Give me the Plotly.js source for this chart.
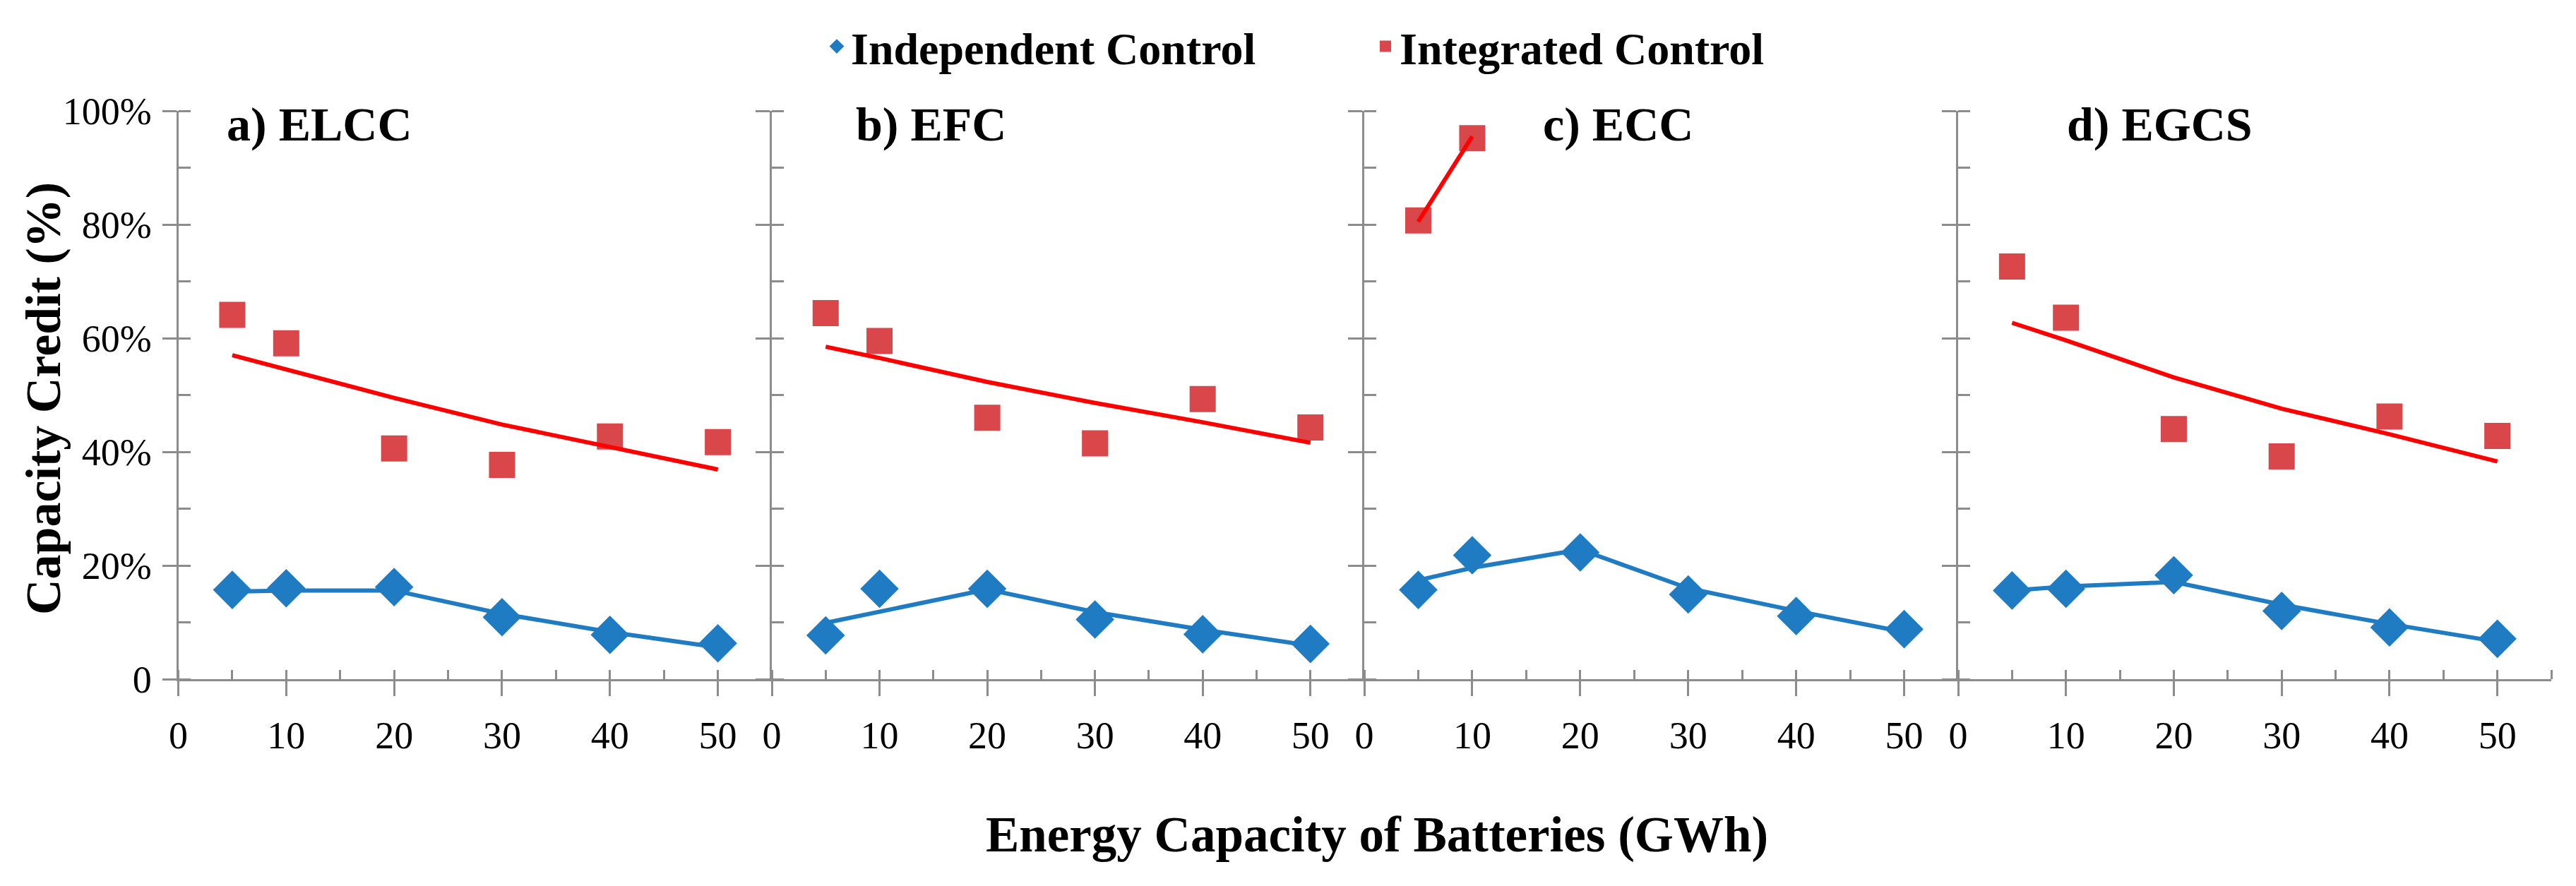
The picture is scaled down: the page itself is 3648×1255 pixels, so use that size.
<!DOCTYPE html>
<html>
<head>
<meta charset="utf-8">
<script src="https://cdn.plot.ly/plotly-3.0.1.min.js"></script>
<style>
  html, body { margin: 0; padding: 0; background: #ffffff; }
  #chart { width: 3648px; height: 1255px; }
</style>
</head>
<body>
<div id="chart"></div>
<script>
// ---------------- DATA ----------------
const panelTitles = ["a) ELCC", "b) EFC", "c) ECC", "d) EGCS"];
const seriesNames = ["Independent Control", "Integrated Control"];
const xTickVals = [0, 10, 20, 30, 40, 50];
const xTickText = ["0", "10", "20", "30", "40", "50"];
const yTickVals = [0, 20, 40, 60, 80, 100];
const yTickText = ["0", "20%", "40%", "60%", "80%", "100%"];
const xTitle = "Energy Capacity of Batteries (GWh)";
const yTitle = "Capacity Credit (%)";

const batteryGWh = [5, 10, 20, 30, 40, 50];
const batteryGWhEcc = [5, 10];

// a) ELCC
const elccIndependent      = [15.7, 16.0, 16.2, 10.9, 7.8, 6.3];
const elccIndependentLine  = [15.4, 15.6, 15.6, 11.5, 8.3, 5.6];
const elccIntegrated       = [64.1, 59.1, 40.6, 37.7, 42.7, 41.7];
const elccIntegratedTrend  = [57.0, 54.5, 49.5, 44.8, 40.8, 36.9];
// b) EFC
const efcIndependent       = [7.7, 15.9, 15.9, 10.5, 7.9, 6.2];
const efcIndependentLine   = [9.9, 11.9, 15.8, 11.8, 8.7, 5.9];
const efcIntegrated        = [64.4, 59.5, 46.0, 41.5, 49.3, 44.3];
const efcIntegratedTrend   = [58.5, 56.5, 52.3, 48.6, 45.2, 41.6];
// c) ECC
const eccIndependent       = [15.7, 21.8, 22.3, 14.9, 11.1, 8.8];
const eccIndependentLine   = [17.4, 19.6, 22.8, 16.0, 12.0, 8.3];
const eccIntegrated        = [80.7, 95.2];
const eccIntegratedTrend   = [80.5, 95.5];
// d) EGCS
const egcsIndependent      = [15.6, 15.9, 18.3, 12.0, 9.1, 7.1];
const egcsIndependentLine  = [15.6, 16.3, 17.1, 13.1, 9.7, 6.6];
const egcsIntegrated       = [72.6, 63.6, 44.0, 39.2, 46.2, 42.8];
const egcsIntegratedTrend  = [62.7, 59.6, 53.1, 47.6, 43.1, 38.3];

// ---------------- STYLE / LAYOUT CONSTANTS ----------------
const W = 3648, H = 1255;
const FONT = "Liberation Serif, Times New Roman, serif";
const BLUE = "#1f7bc2";
const RED_MARK = "#d9474b";
const RED_LINE = "#ff0000";
const AXIS = "#8c8c8c";
const panelEdgesPx = [252.5, 1093, 1932, 2773, 3613];
const plotTopPx = 157, plotBottomPx = 962;
const titleOffsetFrac = [0.079, 0.140, 0.298, 0.181];

const panels = [
  {ind: elccIndependent, indLine: elccIndependentLine, intX: batteryGWh, intg: elccIntegrated, intgTrend: elccIntegratedTrend},
  {ind: efcIndependent, indLine: efcIndependentLine, intX: batteryGWh, intg: efcIntegrated, intgTrend: efcIntegratedTrend},
  {ind: eccIndependent, indLine: eccIndependentLine, intX: batteryGWhEcc, intg: eccIntegrated, intgTrend: eccIntegratedTrend},
  {ind: egcsIndependent, indLine: egcsIndependentLine, intX: batteryGWh, intg: egcsIntegrated, intgTrend: egcsIntegratedTrend}
];

const traces = [];
const layout = {
  width: W, height: H,
  margin: {l: 0, r: 0, t: 0, b: 0},
  paper_bgcolor: "#ffffff",
  plot_bgcolor: "rgba(0,0,0,0)",
  font: {family: FONT, color: "#000000", size: 54},
  showlegend: true,
  legend: {
    orientation: "h",
    x: 1165 / W, xanchor: "left",
    y: 1 - 66 / H, yanchor: "middle",
    font: {family: FONT, size: 64, color: "#000000", weight: "bold"},
    entrywidth: 732, entrywidthmode: "pixels",
    bgcolor: "rgba(0,0,0,0)",
    traceorder: "normal"
  },
  annotations: []
};

const yDomain = [1 - plotBottomPx / H, 1 - plotTopPx / H];

panels.forEach((p, i) => {
  const n = i + 1;
  const xa = n === 1 ? "x" : "x" + n;
  const ya = n === 1 ? "y" : "y" + n;
  const xKey = n === 1 ? "xaxis" : "xaxis" + n;
  const yKey = n === 1 ? "yaxis" : "yaxis" + n;

  layout[xKey] = {
    domain: [panelEdgesPx[i] / W, panelEdgesPx[i + 1] / W],
    anchor: ya,
    range: [0, 55],
    tickmode: "array", tickvals: xTickVals, ticktext: xTickText,
    ticks: "outside", ticklen: 21, tickwidth: 3, tickcolor: AXIS,
    minor: {ticks: "inside", tick0: 0, dtick: 5, ticklen: 13, tickwidth: 3, tickcolor: AXIS, showgrid: false},
    showline: true, linecolor: AXIS, linewidth: 3,
    showgrid: false, zeroline: false,
    tickfont: {family: FONT, size: 54, color: "#000000"},
    ticklabelstandoff: 9,
    fixedrange: true
  };
  layout[yKey] = {
    domain: yDomain,
    anchor: xa,
    range: [0, 100],
    tickmode: "array", tickvals: yTickVals, ticktext: yTickText,
    showticklabels: n === 1,
    ticks: "outside", ticklen: 20, tickwidth: 3, tickcolor: AXIS,
    minor: {ticks: "inside", tick0: 0, dtick: 10, ticklen: 17, tickwidth: 3, tickcolor: AXIS, showgrid: false},
    showline: true, linecolor: AXIS, linewidth: 3,
    showgrid: false, zeroline: false,
    tickfont: {family: FONT, size: 54, color: "#000000"},
    ticklabelstandoff: 4,
    fixedrange: true
  };

  traces.push({
    type: "scatter", mode: "markers", x: batteryGWh, y: p.ind,
    xaxis: xa, yaxis: ya,
    name: seriesNames[0], legendgroup: "ind", showlegend: n === 1,
    marker: {symbol: "diamond", size: 42, color: BLUE, line: {width: 0}},
    cliponaxis: false, hoverinfo: "x+y"
  });
  traces.push({
    type: "scatter", mode: "lines", x: batteryGWh, y: p.indLine,
    xaxis: xa, yaxis: ya,
    name: seriesNames[0] + " line", legendgroup: "ind", showlegend: false,
    line: {color: BLUE, width: 6},
    cliponaxis: false, hoverinfo: "skip"
  });
  traces.push({
    type: "scatter", mode: "markers", x: p.intX, y: p.intg,
    xaxis: xa, yaxis: ya,
    name: seriesNames[1], legendgroup: "int", showlegend: n === 1,
    marker: {symbol: "square", size: 37, color: RED_MARK, line: {width: 0}},
    cliponaxis: false, hoverinfo: "x+y"
  });
  traces.push({
    type: "scatter", mode: "lines", x: p.intX, y: p.intgTrend,
    xaxis: xa, yaxis: ya,
    name: seriesNames[1] + " trend", legendgroup: "int", showlegend: false,
    line: {color: RED_LINE, width: 6},
    cliponaxis: false, hoverinfo: "skip"
  });

  layout.annotations.push({
    text: "<b>" + panelTitles[i] + "</b>",
    xref: xa + " domain", yref: "paper",
    x: titleOffsetFrac[i], xanchor: "left",
    y: 1 - 176 / H, yanchor: "middle",
    showarrow: false,
    font: {family: FONT, size: 68, color: "#000000"}
  });
});

layout.annotations.push({
  text: "<b>" + xTitle + "</b>",
  xref: "paper", yref: "paper",
  x: 1950 / W, xanchor: "center",
  y: 1 - 1182 / H, yanchor: "middle",
  showarrow: false,
  font: {family: FONT, size: 71, color: "#000000"}
});
layout.annotations.push({
  text: "<b>" + yTitle + "</b>",
  xref: "paper", yref: "paper",
  x: 61 / W, xanchor: "center",
  y: 1 - 565 / H, yanchor: "middle",
  textangle: -90,
  showarrow: false,
  font: {family: FONT, size: 70, color: "#000000"}
});

Plotly.newPlot("chart", traces, layout, {displayModeBar: false, staticPlot: true});
</script>
</body>
</html>
